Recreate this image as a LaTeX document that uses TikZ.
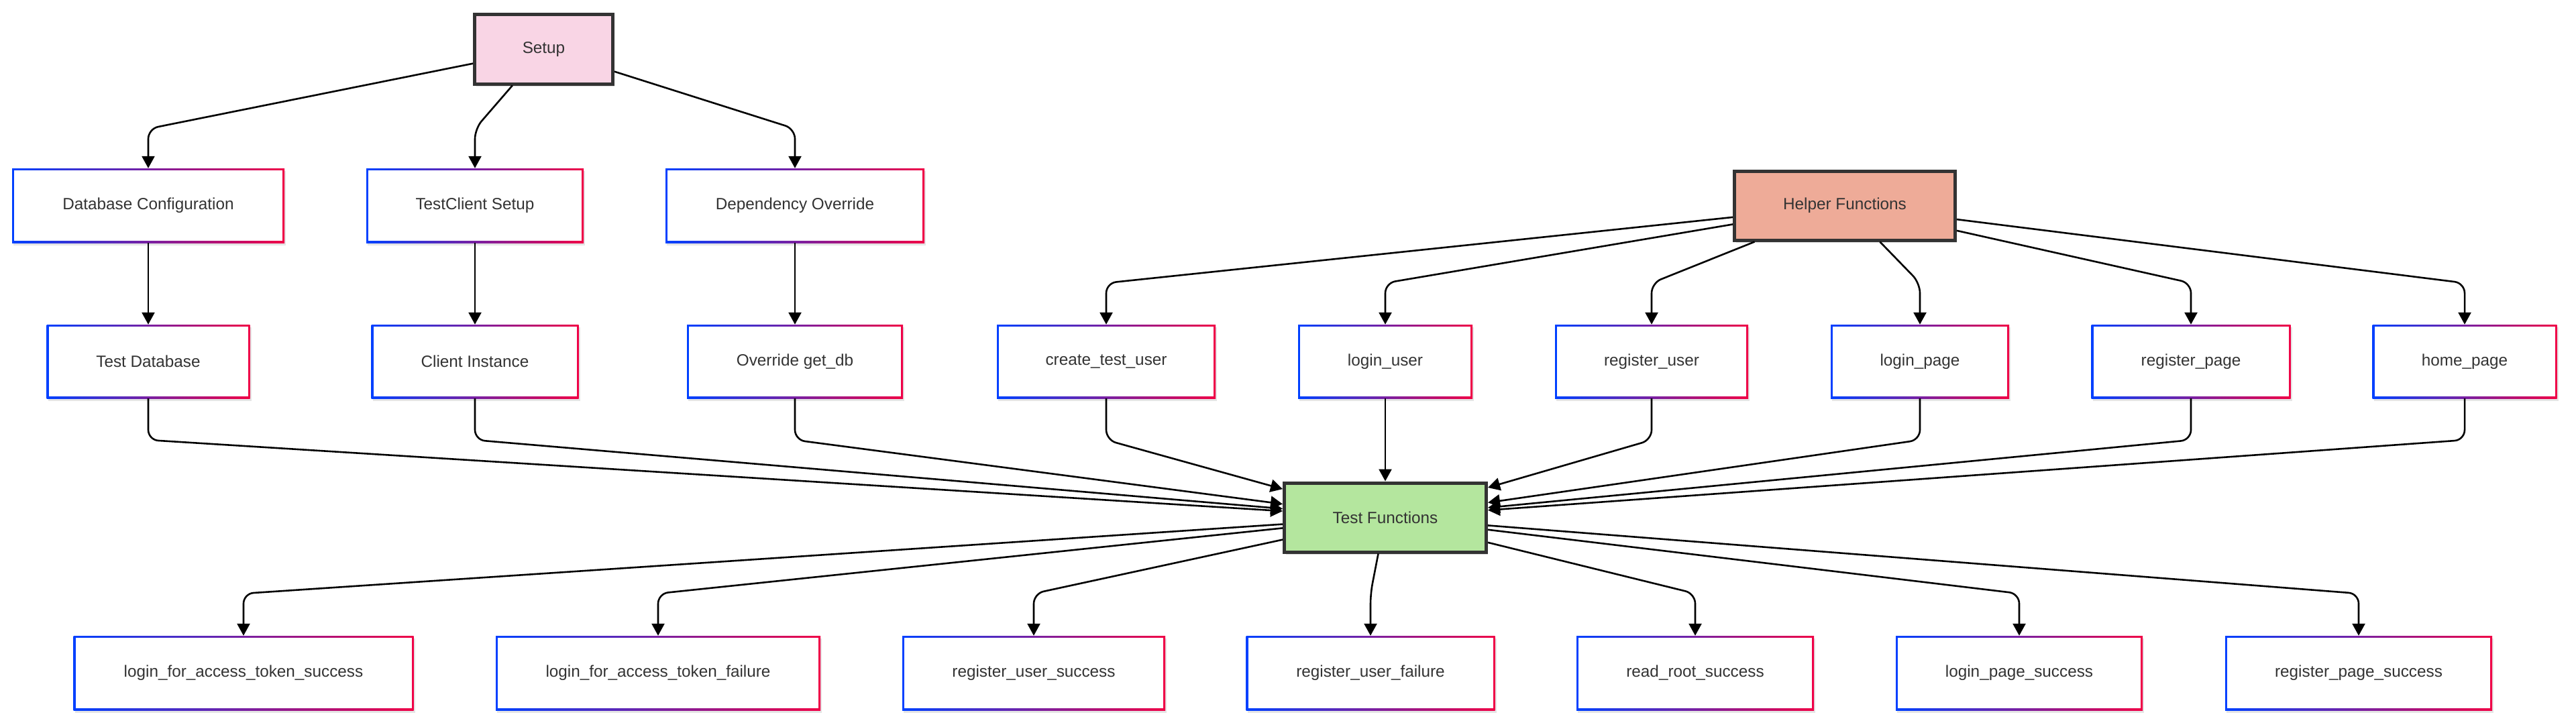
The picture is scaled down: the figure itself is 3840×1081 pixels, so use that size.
\documentclass[tikz,border=0pt]{standalone}
\usepackage{fontspec}
\setmainfont{Liberation Sans}
\usetikzlibrary{arrows.meta,shadows}
\definecolor{gblue}{RGB}{0,64,255}
\definecolor{gred}{RGB}{240,0,70}
\definecolor{txt}{RGB}{51,51,51}
\definecolor{setupfill}{RGB}{249,213,229}
\definecolor{helperfill}{RGB}{238,171,152}
\definecolor{testfill}{RGB}{180,230,158}
\definecolor{bord}{RGB}{51,51,51}
\begin{document}
\begin{tikzpicture}[x=1pt,y=-1pt,
  lbl/.style={font=\fontsize{24.3}{29}\selectfont, text=txt, inner sep=0pt, align=center},
  gbox/.style={lbl, fill=white, minimum height=111,
    drop shadow={opacity=0.10, shadow xshift=2pt, shadow yshift=-4pt, fill=black},
    path picture={
      \shade[left color=gblue, right color=gred]
        (path picture bounding box.south west) rectangle (path picture bounding box.north east);
      \fill[white]
        ([shift={(3pt,3pt)}]path picture bounding box.south west) rectangle
        ([shift={(-3pt,-3pt)}]path picture bounding box.north east);}},
  hub/.style={lbl, draw=bord, line width=5pt, minimum height=103,
    drop shadow={opacity=0.12, shadow xshift=2pt, shadow yshift=-4pt, fill=black}},
  arr/.style={draw=black, line width=2.6pt, rounded corners=15pt,
    -{Triangle[length=18pt,width=19pt]}}
]
\useasboundingbox (0,0) rectangle (3840,1081);

% corner rows
\coordinate (ka) at (0,192);
\coordinate (kb) at (0,422);
\coordinate (kc) at (0,656);
\coordinate (kd) at (0,885);

% hubs
\node[hub, fill=setupfill, minimum width=206] (setup) at (810.5,73.5) {Setup};
\node[hub, fill=helperfill, minimum width=329] (helper) at (2750,306.5) {Helper Functions};
\node[hub, fill=testfill, minimum width=301] (tf) at (2065,771.5) {Test Functions};

% row 2
\node[gbox, minimum width=406] (dbconf) at (221,306.5) {Database Configuration};
\node[gbox, minimum width=324] (tcsetup) at (708,306.5) {TestClient Setup};
\node[gbox, minimum width=386] (depov) at (1185,306.5) {Dependency Override};

% row 3
\node[gbox, minimum width=303, minimum height=110] (testdb) at (221,539) {Test Database};
\node[gbox, minimum width=309, minimum height=110] (clinst) at (708,539) {Client Instance};
\node[gbox, minimum width=322, minimum height=110] (ovget) at (1185,539) {Override get\_db};
\node[gbox, minimum width=326, minimum height=110] (ctu) at (1649,539) {create\_test\_user};
\node[gbox, minimum width=260, minimum height=110] (loginu) at (2065,539) {login\_user};
\node[gbox, minimum width=288, minimum height=110] (regu) at (2462,539) {register\_user};
\node[gbox, minimum width=266, minimum height=110] (loginp) at (2862,539) {login\_page};
\node[gbox, minimum width=297, minimum height=110] (regp) at (3266,539) {register\_page};
\node[gbox, minimum width=275, minimum height=110] (homep) at (3674,539) {home\_page};

% row 5
\node[gbox, minimum width=507] (b1) at (363,1003.5) {login\_for\_access\_token\_success};
\node[gbox, minimum width=484] (b2) at (981,1003.5) {login\_for\_access\_token\_failure};
\node[gbox, minimum width=392] (b3) at (1541,1003.5) {register\_user\_success};
\node[gbox, minimum width=371] (b4) at (2043,1003.5) {register\_user\_failure};
\node[gbox, minimum width=354] (b5) at (2527,1003.5) {read\_root\_success};
\node[gbox, minimum width=368] (b6) at (3010,1003.5) {login\_page\_success};
\node[gbox, minimum width=398] (b7) at (3516,1003.5) {register\_page\_success};

% Setup edges
\draw[arr] (setup) -- (dbconf |- ka) -- (dbconf);
\draw[arr] (setup) -- (tcsetup |- ka) -- (tcsetup);
\draw[arr] (setup) -- (depov |- ka) -- (depov);

% row 2 -> row 3
\draw[arr] (dbconf) -- (testdb);
\draw[arr] (tcsetup) -- (clinst);
\draw[arr] (depov) -- (ovget);

% Helper edges
\foreach \n in {ctu,loginu,regu,loginp,regp,homep}
  \draw[arr] (helper) -- (\n |- kb) -- (\n);

% row 3 -> Test Functions
\foreach \n in {testdb,clinst,ovget,ctu,regu,loginp,regp,homep}
  \draw[arr] (\n) -- (\n |- kc) -- (tf);
\draw[arr] (loginu) -- (tf);

% Test Functions -> row 5
\foreach \n in {b1,b2,b3,b4,b5,b6,b7}
  \draw[arr] (tf) -- (\n |- kd) -- (\n);
\end{tikzpicture}
\end{document}
